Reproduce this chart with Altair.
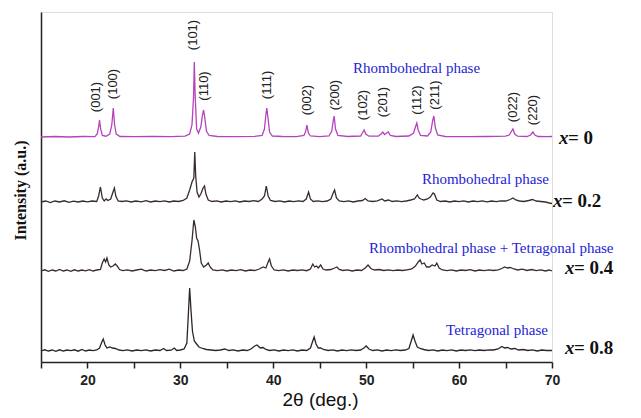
import altair as alt
import pandas as pd

# ---- data (2theta in degrees, intensity in arbitrary units above each pattern's baseline) ----
series_names = ["x= 0", "x= 0.2", "x= 0.4", "x= 0.8"]
series_offsets = [225, 160, 91, 11]
series_colors = ["#b444bc", "#3a2c2c", "#3a2c2c", "#2e2626"]

pattern_x0 = [(15.0,0),(16.5,0.5),(18.0,0),(19.5,0.5),(20.8,0.3),(21.05,3),(21.2,10),(21.3,17),(21.42,8),(21.6,1.5),(22.0,0.8),(22.4,3),(22.62,12),(22.78,29),(22.92,12),(23.1,3),(23.5,0.5),(25.0,0.3),(27.0,0.6),(29.0,0.3),(30.5,0.8),(31.0,3),(31.25,12),(31.42,40),(31.5,75),(31.6,40),(31.75,8),(31.95,4),(32.2,10),(32.38,22),(32.5,27),(32.62,20),(32.8,6),(33.1,1.5),(34.0,0.5),(36.0,0.3),(38.0,0.6),(38.8,1.5),(39.05,8),(39.2,22),(39.3,29),(39.42,20),(39.6,5),(39.9,1),(41.0,0.5),(42.5,0.3),(43.3,1.5),(43.5,6),(43.62,12),(43.78,4),(44.0,1),(45.0,0.3),(46.0,1),(46.3,6),(46.45,16),(46.55,21),(46.7,8),(46.95,1.5),(48.0,0.5),(49.4,1),(49.65,5),(49.78,7),(49.95,3),(50.3,0.8),(51.3,0.8),(51.6,3),(51.78,5),(51.98,2.5),(52.2,4),(52.38,5),(52.6,1.5),(53.2,0.5),(54.6,1),(55.1,4),(55.3,10),(55.45,14),(55.6,7),(55.85,1.5),(56.6,1),(56.95,5),(57.15,16),(57.28,21),(57.45,9),(57.7,2),(58.5,0.5),(61.0,0.3),(63.0,0.5),(65.0,0.8),(65.4,2),(65.65,6),(65.8,8),(65.98,3),(66.3,0.8),(67.3,0.5),(67.7,2),(67.95,5),(68.15,2),(68.5,0.5),(69.5,0.3),(70.0,0.5)]

pattern_x02 = [(15.0,0),(15.5,1),(16.0,-0.5),(16.5,1),(17.0,0),(17.5,1.2),(18.0,-0.3),(18.5,0.8),(19.0,0),(19.5,1),(20.0,0.2),(20.5,1),(21.0,0.5),(21.2,6),(21.4,15),(21.6,4),(21.8,1),(22.0,3),(22.2,1.5),(22.5,3),(22.75,10),(22.9,14),(23.05,6),(23.3,1),(23.7,0.5),(24.2,1.2),(24.7,0),(25.2,1),(25.8,0.2),(26.3,1.3),(26.8,0),(27.3,1),(27.8,0.3),(28.3,1.2),(28.8,0),(29.3,1),(29.8,0.5),(30.3,1.5),(30.7,4),(31.0,12),(31.25,20),(31.45,24),(31.55,50),(31.65,26),(31.8,10),(32.0,5),(32.2,8),(32.45,14),(32.6,16),(32.75,8),(33.0,2),(33.4,0.5),(33.9,1.2),(34.4,0),(34.9,1),(35.4,0.3),(35.9,1.2),(36.4,0),(36.9,1),(37.4,0.5),(37.9,1.3),(38.4,0.5),(38.8,3),(39.05,6),(39.25,16),(39.45,6),(39.7,1.5),(40.2,0.5),(40.7,1.2),(41.2,0),(41.7,1),(42.2,0.3),(42.7,1.2),(43.2,0.5),(43.55,3),(43.8,10),(44.0,3),(44.3,0.5),(44.8,1.2),(45.3,0.3),(45.8,1),(46.2,3),(46.45,9),(46.6,12),(46.8,4),(47.1,1),(47.6,0.3),(48.1,1.2),(48.6,0),(49.1,1),(49.6,1.5),(49.9,3.5),(50.2,1),(50.7,0.5),(51.2,1.2),(51.7,3),(52.0,1),(52.4,2),(52.8,0.5),(53.3,1.2),(53.8,0.3),(54.3,1),(54.8,2),(55.2,3),(55.5,7),(55.7,4),(55.9,3),(56.2,2),(56.6,3),(56.9,5),(57.2,9),(57.35,8),(57.6,2),(58.0,0.5),(58.5,1),(59.0,0),(59.5,1),(60.0,0.3),(60.5,1.2),(61.0,0),(61.5,1),(62.0,0.3),(62.5,1.2),(63.0,0.2),(63.5,1),(64.0,0.3),(64.5,1.2),(65.0,1),(65.5,2.5),(65.8,4),(66.1,2),(66.5,1),(67.0,0.5),(67.5,1.5),(67.9,2.5),(68.3,1),(68.8,0.5),(69.3,0),(69.7,-1),(70.0,-1.5)]

pattern_x04 = [(15.0,0),(15.4,1.2),(15.8,-0.3),(16.2,1),(16.6,0),(17.0,1.5),(17.4,0),(17.8,1),(18.2,-0.3),(18.6,1.2),(19.0,0),(19.4,1),(19.8,0.2),(20.2,1.3),(20.6,0),(21.0,1),(21.4,1.5),(21.6,8),(21.8,12),(21.95,9),(22.1,13),(22.3,6),(22.5,4),(22.75,5),(23.0,7),(23.2,5),(23.45,1.5),(23.8,0.3),(24.3,1.2),(24.8,0),(25.3,1),(25.8,1.8),(26.3,0),(26.8,1),(27.3,0.3),(27.8,1.3),(28.3,0.5),(28.8,1.8),(29.3,0),(29.8,1),(30.3,0.5),(30.7,2),(31.0,10),(31.25,30),(31.45,51),(31.6,45),(31.75,33),(31.9,30),(32.05,22),(32.25,8),(32.5,4),(32.8,6),(33.0,8),(33.2,4),(33.5,1),(34.0,0.3),(34.5,1.2),(35.0,0),(35.5,1),(36.0,0.3),(36.5,1.3),(37.0,0),(37.5,1),(38.0,0.5),(38.5,2),(38.9,4),(39.2,3),(39.45,9),(39.6,12),(39.8,5),(40.1,1),(40.6,0.3),(41.1,1.2),(41.6,0),(42.1,1),(42.6,0.5),(43.1,1.2),(43.6,0.3),(44.0,2),(44.25,7),(44.45,4),(44.65,5),(44.85,3),(45.1,6),(45.35,2),(45.7,1),(46.2,1.5),(46.6,3),(46.85,4),(47.1,1.5),(47.5,0.5),(48.0,1.2),(48.5,0),(49.0,1),(49.5,0.5),(49.9,3),(50.2,6),(50.5,2.5),(50.9,1),(51.4,1.5),(51.9,0.5),(52.4,1.2),(52.9,0.3),(53.4,1),(53.9,0.5),(54.4,1.2),(54.9,2),(55.3,5),(55.6,9),(55.8,11),(56.0,7),(56.25,8),(56.5,4),(56.8,4),(57.1,6),(57.4,5),(57.6,8),(57.85,3),(58.2,1),(58.7,0.3),(59.2,1.2),(59.7,0),(60.2,1),(60.7,0.5),(61.2,1.3),(61.7,0),(62.2,1),(62.7,0.3),(63.2,1.2),(63.7,0.5),(64.2,1.2),(64.6,2.5),(64.9,4),(65.2,3),(65.5,3.5),(65.9,2),(66.3,1),(66.8,1.8),(67.3,0.5),(67.8,1.5),(68.3,0.3),(68.8,1.2),(69.3,0),(69.7,1),(70.0,0)]

pattern_x08 = [(15.0,0),(15.4,1.2),(15.8,0),(16.2,1),(16.6,-0.3),(17.0,1.2),(17.4,0),(17.8,1),(18.2,0.3),(18.6,1.2),(19.0,-0.2),(19.4,1.5),(19.8,0),(20.2,1),(20.6,0.3),(21.0,1),(21.3,3),(21.55,9),(21.7,12),(21.9,6),(22.1,3),(22.4,4),(22.7,3),(23.0,2.5),(23.4,1),(23.8,0.3),(24.3,1.2),(24.8,0),(25.3,1),(25.8,0.3),(26.3,1.2),(26.8,0),(27.3,1),(27.8,0.5),(28.2,2.5),(28.5,0.5),(29.0,0.8),(29.35,3),(29.6,0.5),(30.0,1),(30.4,2),(30.7,8),(30.85,35),(31.0,63),(31.15,40),(31.3,20),(31.5,10),(31.75,7),(32.0,4),(32.4,2.5),(32.8,1.5),(33.3,1),(33.8,0.5),(34.3,1),(34.8,2),(35.2,0.5),(35.7,1.2),(36.2,0),(36.7,1),(37.2,0.5),(37.6,2),(38.0,5),(38.25,6),(38.6,3),(38.9,3.5),(39.2,1.5),(39.6,0.5),(40.1,1.2),(40.6,0),(41.1,1),(41.6,0.3),(42.1,1.2),(42.6,0),(43.1,1),(43.6,0.5),(44.0,3),(44.25,10),(44.4,14),(44.6,7),(44.85,3),(45.1,3),(45.4,1.5),(45.9,0.5),(46.4,1.2),(46.9,0),(47.4,1),(47.9,0.3),(48.4,1.2),(48.9,0.5),(49.4,1),(49.75,3),(50.0,5),(50.3,2),(50.7,0.5),(51.2,1.2),(51.7,0),(52.2,1),(52.7,0.3),(53.2,1.2),(53.7,0.5),(54.2,1),(54.6,2.5),(54.85,10),(55.05,16),(55.25,10),(55.5,4),(55.8,2.5),(56.2,1.5),(56.7,0.5),(57.2,1.2),(57.7,0),(58.2,1),(58.7,0.3),(59.2,1.2),(59.7,0),(60.2,1),(60.7,0.5),(61.2,1.2),(61.7,0.3),(62.2,1),(62.7,0.5),(63.2,1.2),(63.7,1),(64.2,2),(64.6,4.5),(64.9,3),(65.2,3.5),(65.6,2),(66.0,2.5),(66.4,1),(66.9,1.5),(67.4,0.5),(67.9,1.2),(68.4,0),(68.9,1),(69.4,0.5),(70.0,0.5)]

patterns = [pattern_x0, pattern_x02, pattern_x04, pattern_x08]

# Miller indices of the x = 0 pattern and the heights of their labels above its baseline
hkl_labels = ["(001)", "(100)", "(101)", "(110)", "(111)", "(002)", "(200)",
              "(102)", "(201)", "(112)", "(211)", "(022)", "(220)"]
hkl_2theta = [20.9, 22.75, 31.36, 32.55, 39.3, 43.6, 46.65, 49.66, 51.8, 55.47, 57.4, 65.8, 67.96]
hkl_height = [40, 53, 102, 51, 52, 37, 42, 32, 35, 37, 42, 30, 27]

phase_texts = ["Rhombohedral phase", "Rhombohedral phase",
               "Rhombohedral phase + Tetragonal phase", "Tetragonal phase"]
phase_2theta = [48.58, 56.0, 50.3, 58.6]
phase_height = [69, 23, 23, 21]

comp_values = ["= 0", "= 0.2", "= 0.4", "= 0.8"]
comp_2theta = [70.75, 70.1, 71.4, 71.4]
comp_height = [-1, 1, 3, 3]

# ---- tables ----
rows = []
for name, off, pat in zip(series_names, series_offsets, patterns):
    for tt, inten in pat:
        rows.append({"tt": tt, "y": inten + off, "series": name})
lines_df = pd.DataFrame(rows)

hkl_df = pd.DataFrame({"tt": hkl_2theta,
                       "y": [h + series_offsets[0] for h in hkl_height],
                       "label": hkl_labels})
phase_df = pd.DataFrame({"tt": phase_2theta,
                         "y": [h + o for h, o in zip(phase_height, series_offsets)],
                         "label": phase_texts})
comp_df = pd.DataFrame({"tt": comp_2theta,
                        "y": [h + o for h, o in zip(comp_height, series_offsets)],
                        "label": comp_values})

xscale = alt.Scale(domain=[15, 70], nice=False)
yscale = alt.Scale(domain=[0, 350], nice=False)

xaxis = alt.Axis(
    title="2θ (deg.)", values=list(range(15, 71, 5)),
    labelExpr="(datum.value % 10 == 0) ? datum.label : ''",
    labelFont="Liberation Sans", labelFontWeight="bold", labelFontSize=14,
    labelColor="#222222", labelPadding=5,
    tickSize=6, tickColor="#222222", tickWidth=1.5,
    domainColor="#222222", domainWidth=1.5, grid=False,
    titleFont="Liberation Sans", titleFontWeight="normal", titleFontSize=19,
    titleColor="#111111", titleX=279, titleY=37, titleAlign="center",
    titleBaseline="middle", labelFlush=False,
)
yaxis = alt.Axis(
    title="Intensity (a.u.)", ticks=False, labels=False, grid=False,
    domainColor="#222222", domainWidth=1.5,
    titleFont="Liberation Serif", titleFontWeight="bold", titleFontSize=16,
    titleColor="#111111", titleAngle=270, titleX=-21, titleY=178,
    titleAlign="center", titleBaseline="middle",
)

lines = alt.Chart(lines_df).mark_line(strokeWidth=1.3, interpolate="linear").encode(
    x=alt.X("tt:Q", scale=xscale, axis=xaxis),
    y=alt.Y("y:Q", scale=yscale, axis=yaxis),
    color=alt.Color("series:N", scale=alt.Scale(domain=series_names, range=series_colors), legend=None),
    detail="series:N",
)

hkl = alt.Chart(hkl_df).mark_text(
    angle=270, align="center", baseline="middle", font="Liberation Sans",
    fontSize=13, color="#222222",
).encode(x=alt.X("tt:Q", scale=xscale), y=alt.Y("y:Q", scale=yscale), text="label:N")

phase = alt.Chart(phase_df).mark_text(
    align="left", baseline="middle", font="Liberation Serif",
    fontSize=15, color="#2424d8",
).encode(x=alt.X("tt:Q", scale=xscale), y=alt.Y("y:Q", scale=yscale), text="label:N")

comp_x = alt.Chart(comp_df).mark_text(
    align="left", baseline="middle", font="Liberation Serif", fontSize=19,
    fontWeight="bold", fontStyle="italic", color="#111111", text="x",
).encode(x=alt.X("tt:Q", scale=xscale), y=alt.Y("y:Q", scale=yscale))

comp_v = alt.Chart(comp_df).mark_text(
    align="left", baseline="middle", font="Liberation Serif", fontSize=19,
    fontWeight="bold", color="#111111", dx=9,
).encode(x=alt.X("tt:Q", scale=xscale), y=alt.Y("y:Q", scale=yscale), text="label:N")

chart = alt.layer(lines, hkl, phase, comp_x, comp_v).properties(
    width=511, height=350,
    autosize=alt.AutoSizeParams(type="none"),
    padding={"left": 33, "top": 4, "right": 81, "bottom": 48},
).configure_view(stroke=None).configure(background="white")

chart.save("out.html", embed_options={"renderer": "svg", "actions": False})
